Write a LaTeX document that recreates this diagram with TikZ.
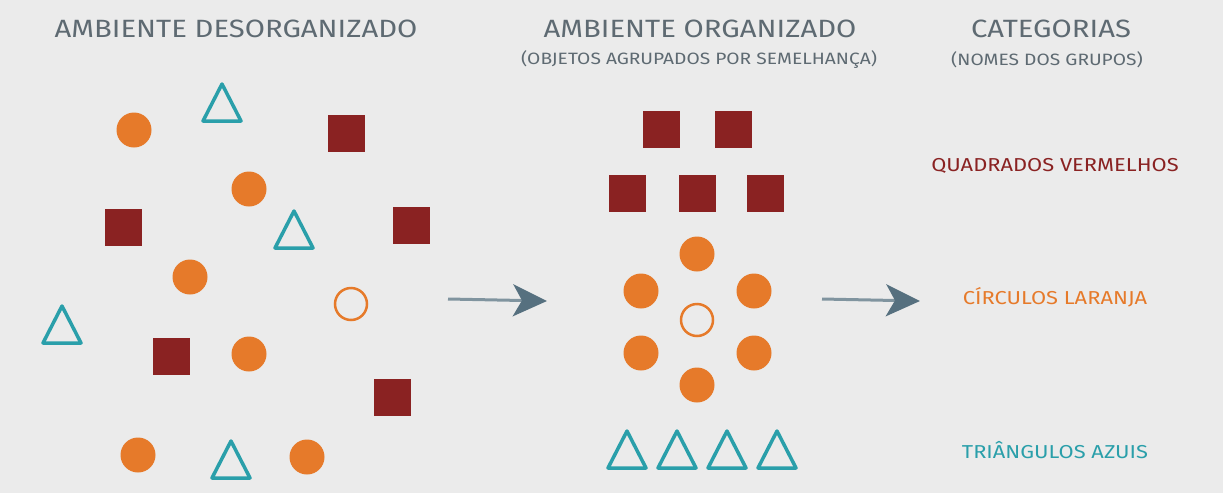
\documentclass[tikz,border=0pt]{standalone}
\usepackage{fontspec}
\setmainfont{Fira Sans}[FakeStretch=1.17]
\usetikzlibrary{arrows.meta}
\definecolor{bgc}{HTML}{EBEBEB}
\definecolor{inkgrey}{HTML}{5E6A72}
\definecolor{sqred}{HTML}{8A2222}
\definecolor{corange}{HTML}{E67A2A}
\definecolor{tteal}{HTML}{2A9FAA}
\definecolor{arrowc}{HTML}{56707F}
\begin{document}
\begin{tikzpicture}[x=1pt,y=-1pt,
  sq/.style={rectangle,fill=sqred,minimum size=37pt,inner sep=0pt},
  dot/.style={circle,fill=corange,minimum size=35pt,inner sep=0pt},
  ring/.style={circle,draw=corange,line width=2.5pt,minimum size=32pt,inner sep=0pt},
  tri/.pic={\draw[tteal,line width=3.5pt,line join=round] (-19,18) -- (0,-19) -- (19,18) -- cycle;},
  title/.style={text=inkgrey,font=\fontsize{25}{28}\selectfont},
  sub/.style={text=inkgrey,font=\fontsize{16.4}{19}\selectfont},
  lab/.style={font=\fontsize{18.7}{21}\selectfont},
  bigarrow/.style={arrowc!75,line width=3pt,-{Stealth[length=34pt,width=32pt,inset=9pt,fill=arrowc,color=arrowc]}}
]
\fill[bgc] (0,0) rectangle (1223,493);
\useasboundingbox (0,0) rectangle (1223,493);

% headings
\node[title] (h1) at (236,29) {AMBIENTE DESORGANIZADO};
\node[title] (h2) at (700,29) {AMBIENTE ORGANIZADO};
\node[sub]   (s2) at (699,60) {(OBJETOS AGRUPADOS POR SEMELHANÇA)};
\node[title] (h3) at (1051,29) {CATEGORIAS};
\node[sub]   (s3) at (1047,60) {(NOMES DOS GRUPOS)};

% scattered objects
\node[dot] (a1) at (134,130) {};
\node[dot] (a2) at (249,189) {};
\node[dot] (a3) at (190,277) {};
\node[dot] (a4) at (249,354) {};
\node[dot] (a5) at (138,455) {};
\node[dot] (a6) at (307,457) {};
\node[ring] (ar) at (351,304) {};
\node[sq] (b1) at (346,133) {};
\node[sq] (b2) at (123,227) {};
\node[sq] (b3) at (411,225) {};
\node[sq] (b4) at (171,356) {};
\node[sq] (b5) at (392,397) {};
\pic (c1) at (222,103) {tri};
\pic (c2) at (294,230) {tri};
\pic (c3) at (62,325) {tri};
\pic (c4) at (231,460) {tri};

% grouped objects
\node[sq] (g1) at (661,129) {};
\node[sq] (g2) at (733,129) {};
\node[sq] (g3) at (627,193) {};
\node[sq] (g4) at (697,193) {};
\node[sq] (g5) at (765,193) {};
\node[dot] (k1) at (697,254) {};
\node[dot] (k2) at (641,291) {};
\node[dot] (k3) at (754,291) {};
\node[ring] (kr) at (697,320) {};
\node[dot] (k4) at (641,353) {};
\node[dot] (k5) at (754,353) {};
\node[dot] (k6) at (697,385) {};
\pic (t1) at (627,450) {tri};
\pic (t2) at (677,450) {tri};
\pic (t3) at (727,450) {tri};
\pic (t4) at (777,450) {tri};

% category names
\node[lab,text=sqred]   (l1) at (1055,166) {QUADRADOS VERMELHOS};
\node[lab,text=corange] (l2) at (1055,297) {CÍRCULOS LARANJA};
\node[lab,text=tteal]   (l3) at (1055,450) {TRIÂNGULOS AZUIS};

% arrows
\coordinate (p1) at (448,299);
\coordinate (q1) at (547,301);
\coordinate (p2) at (822,299);
\coordinate (q2) at (920,301);
\draw[bigarrow] (p1) -- (q1);
\draw[bigarrow] (p2) -- (q2);
\end{tikzpicture}
\end{document}
